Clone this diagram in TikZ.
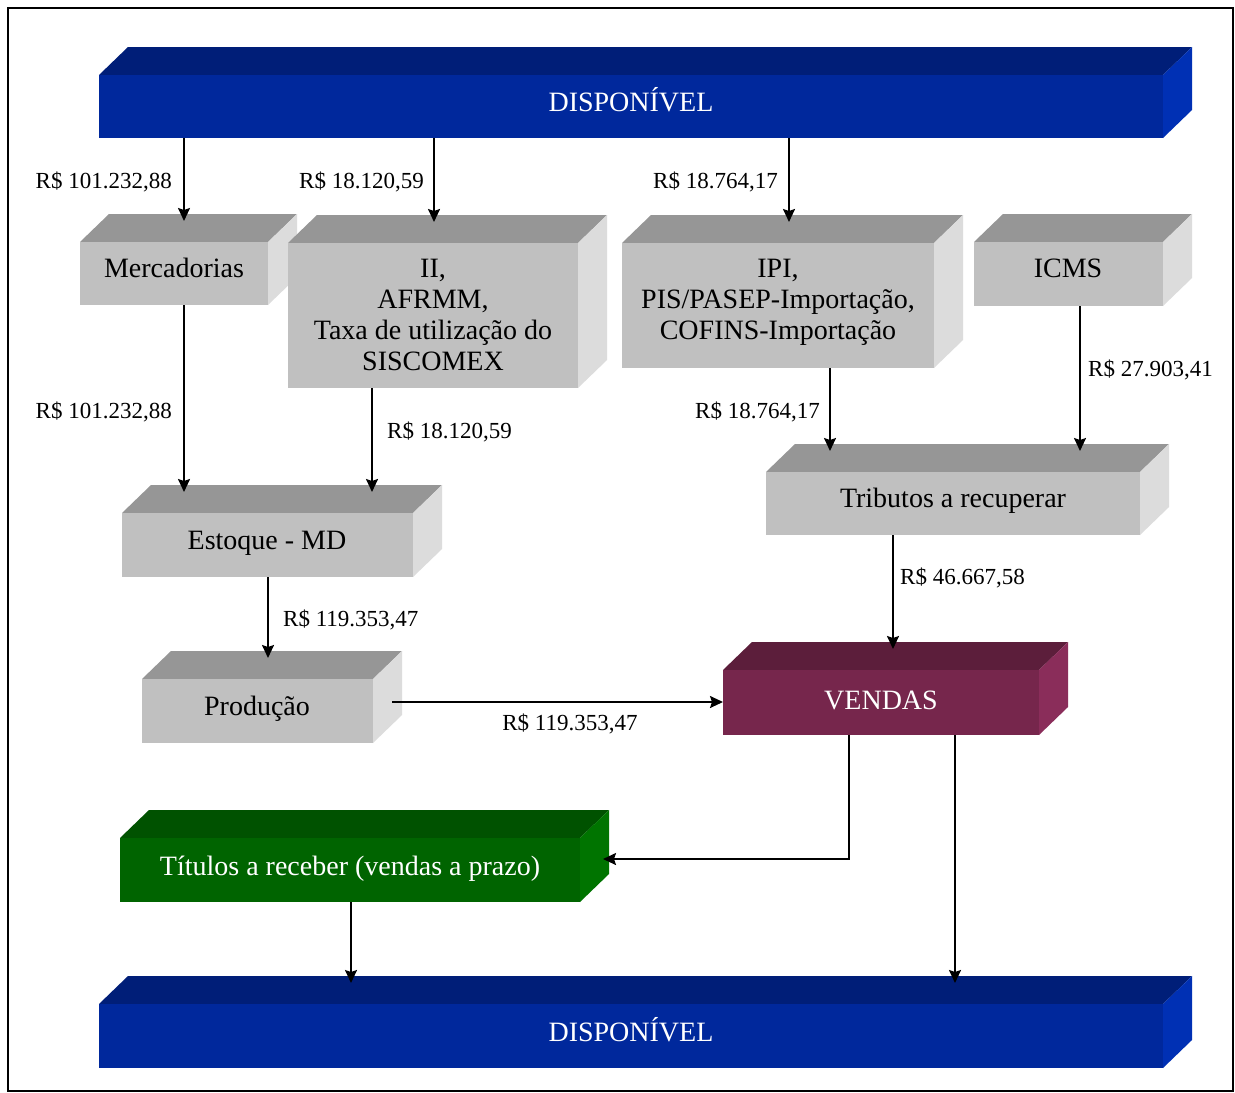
\documentclass[tikz,border=0pt]{standalone}
\usepackage{fontspec}
\setmainfont{Liberation Serif}
\usetikzlibrary{arrows.meta,calc}
\definecolor{bluef}{HTML}{00289C}
\definecolor{bluet}{HTML}{001E78}
\definecolor{blues}{HTML}{0030B4}
\definecolor{grayf}{HTML}{C0C0C0}
\definecolor{grayt}{HTML}{969696}
\definecolor{grays}{HTML}{DCDCDC}
\definecolor{purf}{HTML}{76264C}
\definecolor{purt}{HTML}{5C1E3B}
\definecolor{purs}{HTML}{8A2D5A}
\definecolor{grnf}{HTML}{006400}
\definecolor{grnt}{HTML}{005200}
\definecolor{grns}{HTML}{007400}
\newcommand\cubebox[8]{%
  \fill[#7] (#2,#3) -- ({#2+29},{#3-28}) -- ({#4+29},{#3-28}) -- (#4,#3) -- cycle;
  \fill[#8] (#4,#3) -- ({#4+29},{#3-28}) -- ({#4+29},{#5-28}) -- (#4,#5) -- cycle;
  \node[fill=#6, inner sep=0pt, outer sep=0pt, minimum width={(#4-#2)*1pt}, minimum height={(#5-#3)*1pt}] (#1) at ({(#2+#4)/2},{(#3+#5)/2}) {};
  \coordinate (#1-in) at ({(#2+#4)/2},{#3-21});
}
\tikzset{
  boxtxt/.style={font=\fontsize{28}{31}\selectfont, align=center, inner sep=0pt},
  lbl/.style={font=\fontsize{23}{25}\selectfont, inner sep=0pt},
  arr/.style={line width=1.8pt, -{Stealth[length=13pt,width=12pt,inset=2pt]}},
}
\begin{document}
\begin{tikzpicture}[x=1pt,y=-1pt]
\useasboundingbox (0,0) rectangle (1235,1093);
\fill[white] (0,0) rectangle (1235,1093);
\draw[line width=2pt] (8,8) rectangle (1233,1091);

\cubebox{disp1}{99}{75}{1163}{138}{bluef}{bluet}{blues}
\cubebox{merc}{80}{242}{268}{305}{grayf}{grayt}{grays}
\cubebox{ii}{288}{243}{578}{388}{grayf}{grayt}{grays}
\cubebox{ipi}{622}{243}{934}{368}{grayf}{grayt}{grays}
\cubebox{icms}{974}{242}{1163}{306}{grayf}{grayt}{grays}
\cubebox{est}{122}{513}{413}{577}{grayf}{grayt}{grays}
\cubebox{trib}{766}{472}{1140}{535}{grayf}{grayt}{grays}
\cubebox{prod}{142}{679}{373}{743}{grayf}{grayt}{grays}
\cubebox{vend}{723}{670}{1039}{735}{purf}{purt}{purs}
\cubebox{tit}{120}{838}{580}{902}{grnf}{grnt}{grns}
\cubebox{disp2}{99}{1004}{1163}{1068}{bluef}{bluet}{blues}

\node[boxtxt, text=white, anchor=base] (disp1-t) at (631,111) {DISPONÍVEL};
\node[boxtxt, anchor=base] (merc-t) at (174,277) {Mercadorias};
\node[boxtxt] (ii-t) at (433,315) {II,\\AFRMM,\\Taxa de utilização do\\SISCOMEX};
\node[boxtxt] (ipi-t) at (778,302) {IPI,\\PIS/PASEP-Importação,\\COFINS-Importação};
\node[boxtxt, anchor=base] (icms-t) at (1068,277) {ICMS};
\node[boxtxt, anchor=base] (est-t) at (267,549) {Estoque - MD};
\node[boxtxt, anchor=base] (trib-t) at (953,507) {Tributos a recuperar};
\node[boxtxt, anchor=base] (prod-t) at (257,715) {Produção};
\node[boxtxt, text=white, anchor=base] (vend-t) at (881,709) {VENDAS};
\node[boxtxt, text=white, anchor=base] (tit-t) at (350,875) {Títulos a receber (vendas a prazo)};
\node[boxtxt, text=white, anchor=base] (disp2-t) at (631,1041) {DISPONÍVEL};

\node[lbl, anchor=base east] (l1) at (172,188) {R\$ 101.232,88};
\node[lbl, anchor=base east] (l2) at (424,188) {R\$ 18.120,59};
\node[lbl, anchor=base east] (l3) at (778,188) {R\$ 18.764,17};
\node[lbl, anchor=base east] (l4) at (172,418) {R\$ 101.232,88};
\node[lbl, anchor=base west] (l5) at (387,438) {R\$ 18.120,59};
\node[lbl, anchor=base east] (l6) at (820,418) {R\$ 18.764,17};
\node[lbl, anchor=base west] (l7) at (1088,376) {R\$ 27.903,41};
\node[lbl, anchor=base west] (l8) at (283,626) {R\$ 119.353,47};
\node[lbl, anchor=base west] (l9) at (900,584) {R\$ 46.667,58};
\node[lbl, anchor=base] (l10) at (570,730) {R\$ 119.353,47};

\draw[arr] (disp1.south -| 184,0) -- (merc-in -| 184,0);
\draw[arr] (disp1.south -| 434,0) -- (ii-in -| 434,0);
\draw[arr] (disp1.south -| 789,0) -- (ipi-in -| 789,0);
\draw[arr] (merc.south -| 184,0) -- (est-in -| 184,0);
\draw[arr] (ii.south -| 372,0) -- (est-in -| 372,0);
\draw[arr] (ipi.south -| 830,0) -- (trib-in -| 830,0);
\draw[arr] (icms.south -| 1080,0) -- (trib-in -| 1080,0);
\draw[arr] (est.south -| 268,0) -- (prod-in -| 268,0);
\draw[arr] (trib.south -| 893,0) -- (vend-in -| 893,0);
\coordinate (pstart) at (392,702);
\draw[arr] (pstart) -- (pstart -| vend.west);
\coordinate (titin) at (603,859);
\draw[arr] (vend.south -| 849,0) |- (titin);
\draw[arr] (vend.south -| 955,0) -- (disp2-in -| 955,0);
\draw[arr] (tit.south -| 351,0) -- (disp2-in -| 351,0);
\end{tikzpicture}
\end{document}
